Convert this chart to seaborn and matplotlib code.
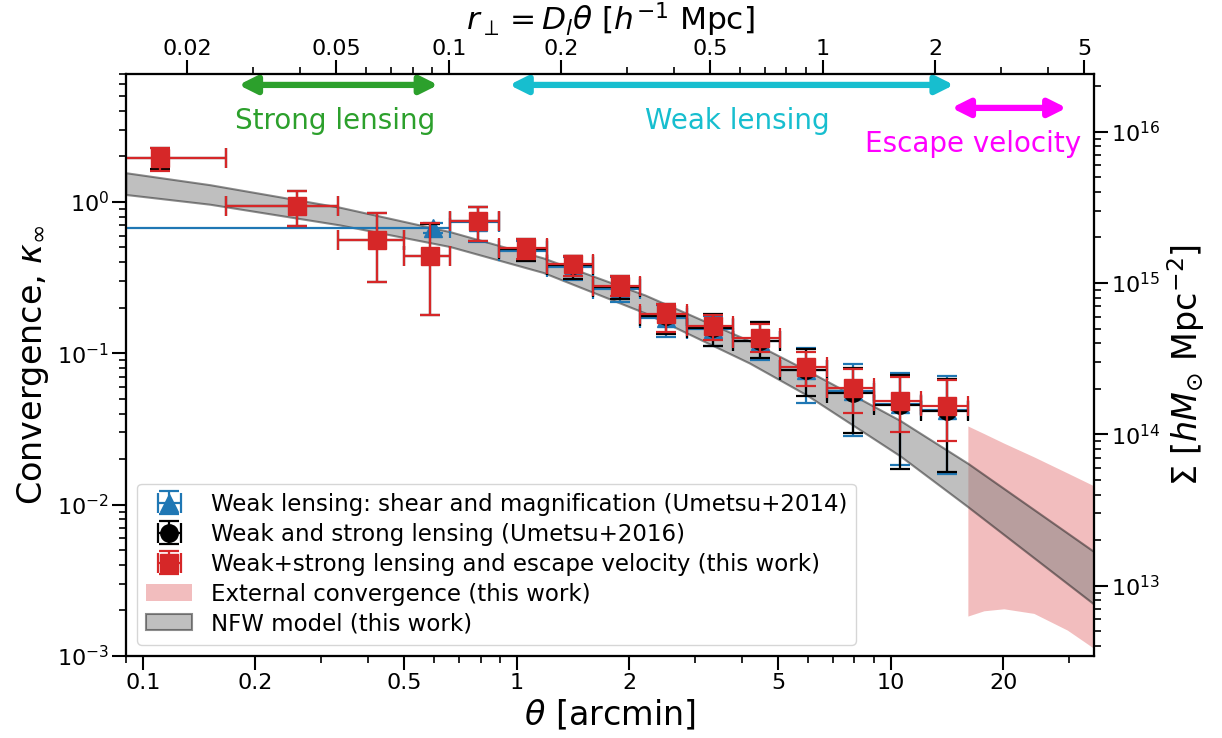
import numpy as np
import matplotlib
matplotlib.use("Agg")
import matplotlib.pyplot as plt
from matplotlib.ticker import NullFormatter
import seaborn as sns

# angular bins (arcmin) shared by the Umetsu+2016 and this-work profiles
theta = [0.111, 0.259, 0.422, 0.586, 0.789, 1.056, 1.412, 1.883, 2.51, 3.348, 4.462, 5.953, 7.935, 10.58, 14.17]
bin_lo = [0.0, 0.1666, 0.333, 0.498, 0.664, 0.897, 1.203, 1.601, 2.137, 2.857, 3.793, 5.07, 6.76, 9.03, 12.07]
bin_hi = [0.1666, 0.333, 0.498, 0.664, 0.897, 1.203, 1.601, 2.137, 2.857, 3.793, 5.07, 6.76, 9.03, 12.07, 16.09]

# weak+strong lensing and escape velocity (this work)
red_kappa = [1.945, 0.941, 0.561, 0.442, 0.749, 0.494, 0.388, 0.279, 0.181, 0.152, 0.127, 0.0815, 0.0587, 0.0484, 0.0448]
red_hi = [2.285, 1.188, 0.842, 0.723, 0.931, 0.567, 0.440, 0.324, 0.212, 0.178, 0.156, 0.1025, 0.0784, 0.0694, 0.0666]
red_lo = [1.61, 0.691, 0.297, 0.179, 0.552, 0.420, 0.322, 0.240, 0.139, 0.122, 0.102, 0.0608, 0.0401, 0.0300, 0.0264]

# weak and strong lensing (Umetsu+2016)
black_kappa = [1.94, 0.94, 0.56, 0.44, 0.745, 0.49, 0.384, 0.274, 0.177, 0.147, 0.121, 0.077, 0.055, 0.0455, 0.0415]
black_hi = [2.27, 1.18, 0.84, 0.72, 0.93, 0.565, 0.44, 0.325, 0.213, 0.181, 0.16, 0.106, 0.080, 0.072, 0.068]
black_lo = [1.65, 0.69, 0.297, 0.179, 0.55, 0.41, 0.31, 0.228, 0.135, 0.111, 0.0927, 0.0522, 0.0299, 0.0172, 0.0165]

# weak lensing shear + magnification (Umetsu+2014)
blue_theta = [0.598, 0.789, 1.056, 1.412, 1.883, 2.51, 3.348, 4.462, 5.953, 7.935, 10.58, 14.17]
blue_bin_lo = [0.0, 0.664, 0.897, 1.203, 1.601, 2.137, 2.857, 3.793, 5.07, 6.76, 9.03, 12.07]
blue_bin_hi = [0.664, 0.897, 1.203, 1.601, 2.137, 2.857, 3.793, 5.07, 6.76, 9.03, 12.07, 16.09]
blue_kappa = [0.676, 0.735, 0.475, 0.372, 0.266, 0.172, 0.144, 0.12, 0.078, 0.056, 0.046, 0.042]
blue_hi = [0.73, 0.92, 0.552, 0.43, 0.317, 0.207, 0.176, 0.161, 0.109, 0.0846, 0.0744, 0.0708]
blue_lo = [0.62, 0.54, 0.41, 0.305, 0.217, 0.128, 0.112, 0.09, 0.0467, 0.0284, 0.0183, 0.0159]

# NFW model band
nfw_theta = [0.09, 0.151, 0.336, 0.663, 1.176, 2.2, 4.19, 5.95, 10.6, 16.09, 35.0]
nfw_hi = [1.56, 1.30, 0.923, 0.636, 0.427, 0.243, 0.121, 0.0775, 0.036, 0.01875, 0.00489]
nfw_lo = [1.12, 0.966, 0.705, 0.507, 0.342, 0.185, 0.0863, 0.0532, 0.021, 0.00969, 0.0022]

# external convergence band
ext_theta = [16.09, 17.76, 20.08, 24.16, 29.69, 35.0]
ext_hi = [0.0331, 0.0295, 0.0255, 0.0207, 0.0162, 0.0133]
ext_lo = [0.001836, 0.001989, 0.002051, 0.001912, 0.001483, 0.001122]

# axis conversions
D_L = 0.152          # h^-1 Mpc per arcmin
SIGMA_CR = 3.43e15   # h M_sun Mpc^-2

x_ticks = [0.1, 0.2, 0.5, 1, 2, 5, 10, 20]
x_labels = ["0.1", "0.2", "0.5", "1", "2", "5", "10", "20"]
r_ticks = [0.02, 0.05, 0.1, 0.2, 0.5, 1, 2, 5]
r_labels = ["0.02", "0.05", "0.1", "0.2", "0.5", "1", "2", "5"]

sns.set_theme(style="ticks")
plt.rcParams["font.family"] = ["DejaVu Sans"]
plt.rcParams["mathtext.fontset"] = "dejavusans"
plt.rcParams["axes.edgecolor"] = "black"
plt.rcParams["axes.linewidth"] = 1.5
plt.rcParams["axes.labelcolor"] = "black"
plt.rcParams["text.color"] = "black"
plt.rcParams["xtick.color"] = "black"
plt.rcParams["ytick.color"] = "black"
plt.rcParams["xtick.labelcolor"] = "black"
plt.rcParams["ytick.labelcolor"] = "black"

pal = sns.color_palette("tab10")
BLUE, GREEN, RED, CYAN = pal[0], pal[2], pal[3], pal[9]

fig = plt.figure(figsize=(12.22, 7.38), dpi=100)
ax = fig.add_axes([0.1029, 0.1111, 0.7924, 0.7886])


def bars(x, k, lo, hi, blo, bhi, **kw):
    x = np.asarray(x)
    k = np.asarray(k)
    xerr = [x - np.maximum(blo, 1e-3), np.asarray(bhi) - x]
    yerr = [k - np.asarray(lo), np.asarray(hi) - k]
    return ax.errorbar(x, k, xerr=xerr, yerr=yerr, linestyle="none", ms=12.5,
                       elinewidth=1.6, capsize=7, capthick=1.6, **kw)


ext = ax.fill_between(ext_theta, ext_lo, ext_hi, color=RED, alpha=0.3, lw=0, zorder=1)
nfw = ax.fill_between(nfw_theta, nfw_lo, nfw_hi, facecolor="gray", edgecolor="k",
                      alpha=0.5, lw=1.5, zorder=2)

eb_blue = bars(blue_theta, blue_kappa, blue_lo, blue_hi, blue_bin_lo, blue_bin_hi,
               fmt="^", color=BLUE, zorder=3)
eb_black = bars(theta, black_kappa, black_lo, black_hi, bin_lo, bin_hi,
                fmt="o", color="black", zorder=4)
eb_red = bars(theta, red_kappa, red_lo, red_hi, bin_lo, bin_hi,
              fmt="s", color=RED, zorder=5)

ax.set_xscale("log")
ax.set_yscale("log")
ax.set_xlim(0.09, 35)
ax.set_ylim(1e-3, 7)
ax.set_xticks(x_ticks, labels=x_labels)
ax.xaxis.set_minor_formatter(NullFormatter())

tick_kw = dict(direction="out")
ax.tick_params(which="major", length=10, width=1.5, labelsize=16, pad=2, **tick_kw)
ax.tick_params(which="minor", length=5, width=1.2, **tick_kw)
ax.set_xlabel(r"$\theta$ [arcmin]", fontsize=24)
ax.set_ylabel(r"Convergence, $\kappa_{\infty}$", fontsize=24)

# top axis: projected radius
axt = ax.twiny()
axt.set_xscale("log")
axt.set_xlim(0.09 * D_L, 35 * D_L)
axt.set_xticks(r_ticks, labels=r_labels)
axt.xaxis.set_minor_formatter(NullFormatter())
axt.tick_params(which="major", length=10, width=1.5, labelsize=16, pad=1, **tick_kw)
axt.tick_params(which="minor", length=5, width=1.2, **tick_kw)
axt.set_xlabel(r"$r_{\perp}=D_l\theta$ [$h^{-1}$ Mpc]", fontsize=22.5, labelpad=6)

# right axis: surface mass density
axr = ax.twinx()
axr.set_yscale("log")
axr.set_ylim(1e-3 * SIGMA_CR, 7 * SIGMA_CR)
axr.tick_params(which="major", length=10, width=1.5, labelsize=16, pad=2, **tick_kw)
axr.tick_params(which="minor", length=5, width=1.2, **tick_kw)
axr.set_ylabel(r"$\Sigma$ [$hM_{\odot}$ Mpc$^{-2}$]", fontsize=24)

# range arrows
arrow_kw = dict(lw=4.5, mutation_scale=26, shrinkA=0, shrinkB=0,
                joinstyle="round", capstyle="round")
ax.annotate("", xy=(0.6164, 5.93), xytext=(0.1803, 5.93),
            arrowprops=dict(arrowstyle="<|-|>", color=GREEN, **arrow_kw))
ax.annotate("", xy=(14.77, 5.93), xytext=(0.955, 5.93),
            arrowprops=dict(arrowstyle="<|-|>", color=CYAN, **arrow_kw))
ax.annotate("", xy=(29.56, 4.18), xytext=(14.55, 4.18),
            arrowprops=dict(arrowstyle="<|-|>", color="magenta", **arrow_kw))
ax.text(0.3264, 3.43, "Strong lensing", color=GREEN, fontsize=20, ha="center", va="center")
ax.text(3.889, 3.43, "Weak lensing", color=CYAN, fontsize=20, ha="center", va="center")
ax.text(16.61, 2.417, "Escape velocity", color="magenta", fontsize=20, ha="center", va="center")

leg = ax.legend([eb_blue, eb_black, eb_red, ext, nfw],
                ["Weak lensing: shear and magnification (Umetsu+2014)",
                 "Weak and strong lensing (Umetsu+2016)",
                 "Weak+strong lensing and escape velocity (this work)",
                 "External convergence (this work)",
                 "NFW model (this work)"],
                loc="lower left", fontsize=16.5, labelspacing=0.3)
leg.set_zorder(10)

fig.savefig("out.png", dpi=100)
